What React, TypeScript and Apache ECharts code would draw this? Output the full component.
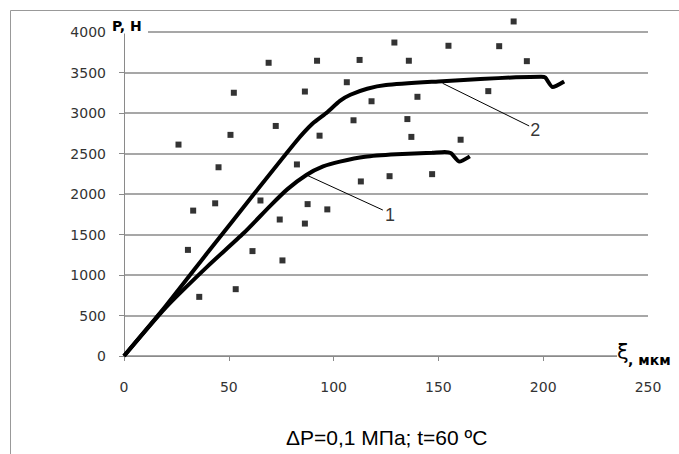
import React, { useEffect, useRef } from "react";
import * as echarts from "echarts";

const xTicks = { min: 0, max: 250, interval: 50 };
const yTicks = { min: 0, max: 4000, interval: 500 };

const scatterPoints: number[][] = [
  [69, 3620], [52.4, 3250], [72.4, 2840], [50.8, 2730], [26, 2610], [45.1, 2330], [82.5, 2365],
  [129, 3870], [154.8, 3830], [92.1, 3645], [112.4, 3655], [135.9, 3645], [106.3, 3380],
  [86.3, 3265], [118.1, 3145], [140, 3200], [109.5, 2910], [135.2, 2925], [93.3, 2720],
  [137.1, 2705], [160.6, 2670], [113, 2155], [126.7, 2220], [147, 2245],
  [185.9, 4130], [179, 3825], [192.2, 3640], [173.8, 3270],
  [33, 1795], [43.5, 1885], [65.1, 1920], [74.3, 1685], [30.5, 1310], [61.3, 1295],
  [75.6, 1180], [53.3, 825], [35.9, 730],
  [87.6, 1875], [97, 1810], [86.3, 1635],
];

const curve1: number[][] = [
  [0, 0], [20, 600], [40, 1110], [57, 1515], [70, 1860], [78, 2060], [87, 2235], [95, 2340],
  [103, 2400], [115, 2460], [130, 2490], [147, 2510], [153, 2520], [156, 2505], [160, 2400],
  [165, 2465],
];

const curve2: number[][] = [
  [0, 0], [20, 620], [40, 1280], [62, 2000], [82, 2646], [90, 2870], [97, 3010], [103, 3150],
  [108, 3225], [116, 3300], [125, 3345], [150, 3390], [170, 3420], [187, 3440], [199, 3447],
  [201, 3437], [204.5, 3320], [210, 3390],
];

const leader1 = [[87, 2235], [123.5, 1802]];
const leader2 = [[152, 3367], [193.3, 2840]];
const curveLabels: (number | string)[][] = [
  [126.9, 1735, "1"],
  [196.2, 2790, "2"],
];

const yAxisName = "P, Н";
const xAxisSymbol = "ξ";
const xAxisUnit = ", мкм";
const caption = "ΔP=0,1 МПа; t=60 ºC";

export default function App() {
  const ref = useRef<HTMLDivElement>(null);
  useEffect(() => {
    if (!ref.current) return;
    const chart = echarts.init(ref.current, null, { renderer: "svg" });
    const gray = "#8a8a8a";
    chart.setOption({
      animation: false,
      grid: { left: 124, right: 31, top: 32, bottom: 98 },
      xAxis: {
        type: "value",
        ...xTicks,
        axisLine: { show: true, onZero: false, lineStyle: { color: gray, width: 1 } },
        axisTick: { show: true, length: 5, lineStyle: { color: gray } },
        splitLine: { show: false },
        axisLabel: {
          margin: 24,
          color: "#333",
          fontFamily: "DejaVu Sans",
          fontSize: 14,
          formatter: (v: number) => String(v),
        },
      },
      yAxis: {
        type: "value",
        ...yTicks,
        axisLine: { show: true, lineStyle: { color: gray, width: 1 } },
        axisTick: { show: true, length: 5, lineStyle: { color: gray } },
        splitLine: { show: true, lineStyle: { color: gray, width: 1.6 } },
        axisLabel: {
          margin: 18,
          color: "#333",
          fontFamily: "DejaVu Sans",
          fontSize: 14,
          formatter: (v: number) => String(v),
        },
      },
      series: [
        {
          type: "line",
          data: curve1,
          showSymbol: false,
          smooth: 0.2,
          lineStyle: { color: "#000", width: 4 },
          z: 3,
          markLine: {
            silent: true,
            symbol: ["none", "none"],
            label: { show: false },
            lineStyle: { color: "#000", width: 1, type: "solid" },
            data: [[{ coord: leader1[0] }, { coord: leader1[1] }]],
          },
        },
        {
          type: "line",
          data: curve2,
          showSymbol: false,
          smooth: 0.2,
          lineStyle: { color: "#000", width: 4 },
          z: 3,
          markLine: {
            silent: true,
            symbol: ["none", "none"],
            label: { show: false },
            lineStyle: { color: "#000", width: 1, type: "solid" },
            data: [[{ coord: leader2[0] }, { coord: leader2[1] }]],
          },
        },
        {
          type: "scatter",
          data: scatterPoints,
          symbol: "rect",
          symbolSize: 6,
          clip: false,
          itemStyle: { color: "#000" },
          z: 4,
        },
        {
          type: "scatter",
          data: curveLabels,
          symbolSize: 0,
          clip: false,
          label: {
            show: true,
            position: "inside",
            formatter: (p: any) => p.data[2],
            color: "#000",
            fontFamily: "Liberation Sans",
            fontSize: 18,
          },
          z: 5,
        },
      ],
      graphic: [
        {
          type: "rect",
          z: 100,
          shape: { x: 10.5, y: 10.5, width: 700, height: 500 },
          style: { fill: "none", stroke: "#999", lineWidth: 1 },
        },
        {
          type: "rect",
          z: 100,
          shape: { x: 109, y: 14, width: 39, height: 19.5 },
          style: { fill: "#fff" },
        },
        {
          type: "text",
          z: 101,
          x: 112,
          y: 25.9,
          style: {
            text: yAxisName,
            fill: "#000",
            font: "bold 14px 'DejaVu Sans'",
            textAlign: "left",
            textVerticalAlign: "middle",
          },
        },
        {
          type: "rect",
          z: 100,
          shape: { x: 617, y: 338, width: 62, height: 30 },
          style: { fill: "#fff" },
        },
        {
          type: "text",
          z: 101,
          x: 617,
          y: 352,
          style: {
            text: xAxisSymbol,
            fill: "#000",
            font: "21px 'DejaVu Sans'",
            textAlign: "left",
            textVerticalAlign: "middle",
          },
        },
        {
          type: "text",
          z: 101,
          x: 628,
          y: 359.5,
          style: {
            text: xAxisUnit,
            fill: "#000",
            font: "bold 14px 'DejaVu Sans'",
            textAlign: "left",
            textVerticalAlign: "middle",
          },
        },
        {
          type: "text",
          z: 101,
          x: 386.7,
          y: 437,
          style: {
            text: caption,
            fill: "#000",
            font: "21px 'Liberation Sans'",
            textAlign: "center",
            textVerticalAlign: "middle",
          },
        },
      ],
    });
    return () => chart.dispose();
  }, []);
  return (
    <div
      ref={ref}
      style={{ position: "absolute", left: 0, top: 0, width: 679, height: 454 }}
    />
  );
}
